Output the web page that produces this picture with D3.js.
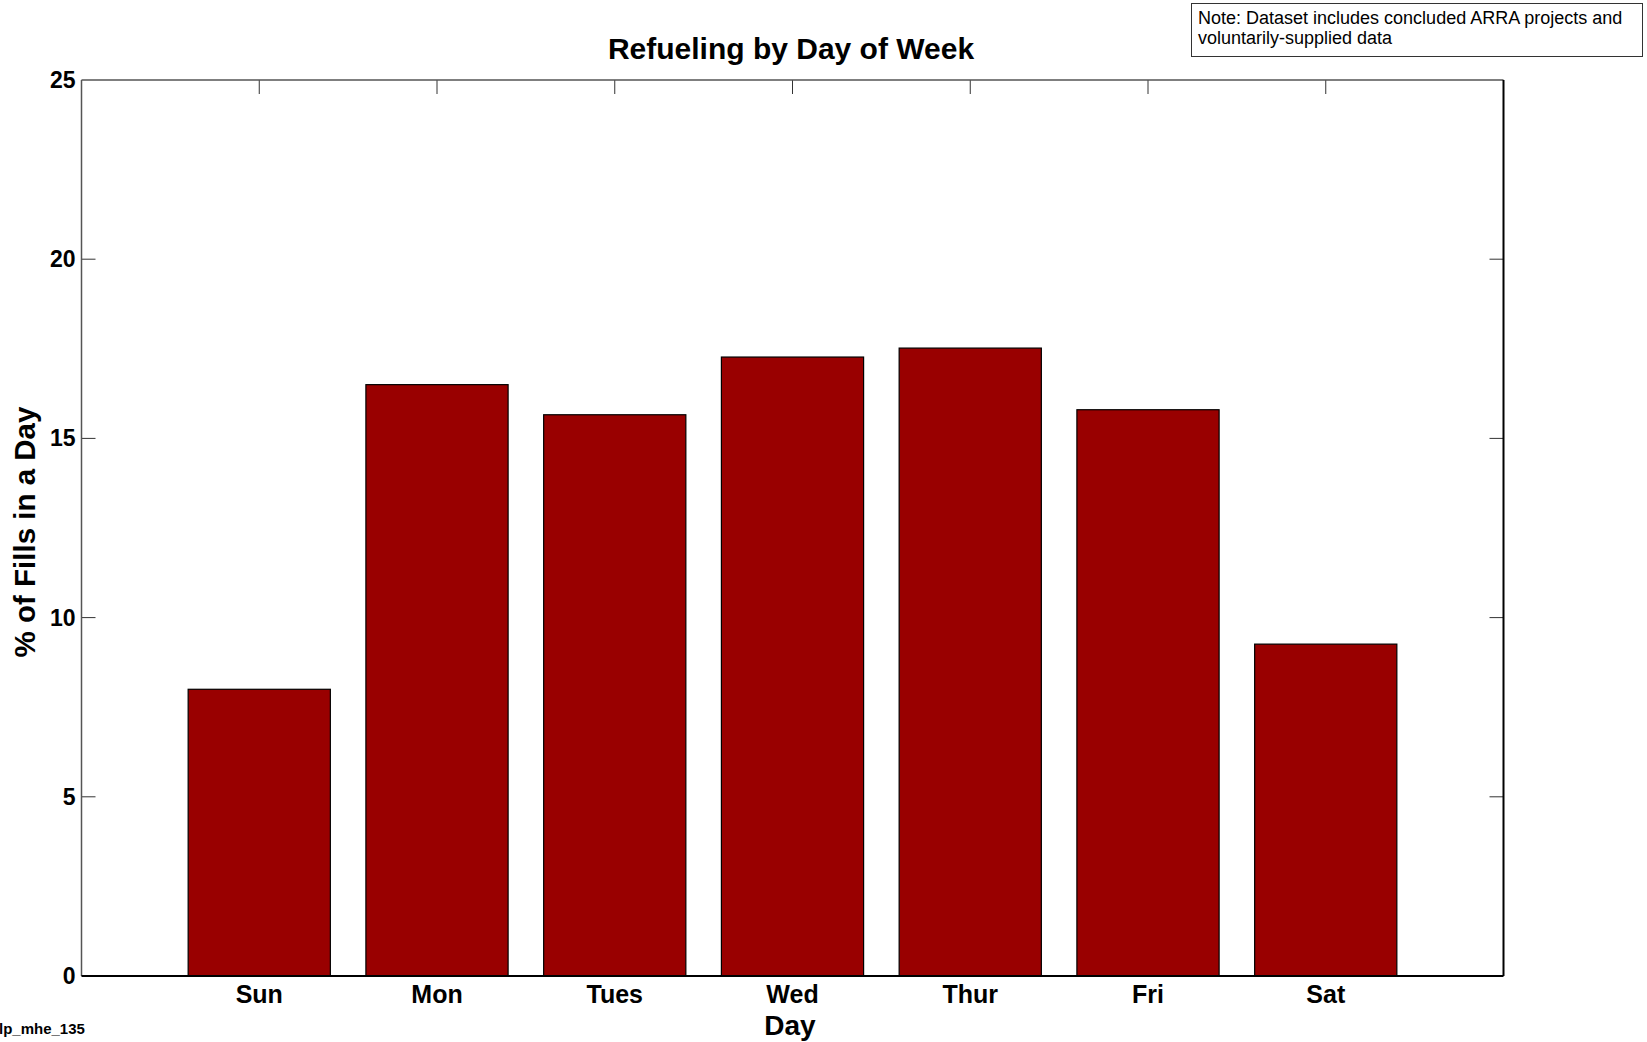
<!DOCTYPE html>
<html>
<head>
<meta charset="utf-8">
<script src="https://cdn.jsdelivr.net/npm/d3@7"></script>
<style>
  body { margin: 0; background: #fff; }
  svg { display: block; font-family: "Liberation Sans", Arial, sans-serif; }
</style>
</head>
<body>
<svg id="barchart"></svg>
<script>
var days = ["Sun", "Mon", "Tues", "Wed", "Thur", "Fri", "Sat"]
var fillPercent = [8.0, 16.5, 15.66, 17.27, 17.52, 15.8, 9.26]
var yTicks = [0, 5, 10, 15, 20, 25]

var dimensions = {
    width: 1647,
    height: 1042,
    margin: {
        top: 80,
        bottom: 66,
        right: 143.5,
        left: 81.5
    }
}

var svg = d3.select("#barchart")
    .attr("width", dimensions.width)
    .attr("height", dimensions.height)

var x0 = dimensions.margin.left
var x1 = dimensions.width - dimensions.margin.right
var y0 = dimensions.height - dimensions.margin.bottom
var y1 = dimensions.margin.top

var xScale = d3.scaleBand()
    .domain(days)
    .range([x0, x1])
    .paddingInner(0.2)
    .paddingOuter(0.6)

var yScale = d3.scaleLinear()
    .domain([0, 25])
    .range([y0, y1])

// inward tick marks on all four sides (drawn under the bars)
var tickLen = 14
var ticks = svg.append("g").attr("stroke", "#333").attr("stroke-width", 1)
ticks.selectAll(".yl").data(yTicks.slice(1, -1)).enter().append("line")
    .attr("x1", x0).attr("x2", x0 + tickLen)
    .attr("y1", d => yScale(d)).attr("y2", d => yScale(d))
ticks.selectAll(".yr").data(yTicks.slice(1, -1)).enter().append("line")
    .attr("x1", x1).attr("x2", x1 - tickLen)
    .attr("y1", d => yScale(d)).attr("y2", d => yScale(d))
ticks.selectAll(".xt").data(days).enter().append("line")
    .attr("x1", d => xScale(d) + xScale.bandwidth() / 2)
    .attr("x2", d => xScale(d) + xScale.bandwidth() / 2)
    .attr("y1", y1).attr("y2", y1 + tickLen)

// bars
svg.append("g")
    .selectAll("rect")
    .data(days)
    .enter()
    .append("rect")
    .attr("x", d => xScale(d))
    .attr("y", (d, i) => yScale(fillPercent[i]))
    .attr("width", xScale.bandwidth())
    .attr("height", (d, i) => yScale(0) - yScale(fillPercent[i]))
    .attr("fill", "#990000")
    .attr("stroke", "#000")
    .attr("stroke-width", 1.2)

// axes box
var box = svg.append("g").attr("fill", "none")
box.append("line").attr("x1", x0).attr("x2", x1).attr("y1", y1).attr("y2", y1)
    .attr("stroke", "#555").attr("stroke-width", 1.5)
box.append("line").attr("x1", x0).attr("x2", x0).attr("y1", y1).attr("y2", y0)
    .attr("stroke", "#555").attr("stroke-width", 1.5)
box.append("line").attr("x1", x0).attr("x2", x1).attr("y1", y0).attr("y2", y0)
    .attr("stroke", "#000").attr("stroke-width", 2)
box.append("line").attr("x1", x1).attr("x2", x1).attr("y1", y1).attr("y2", y0)
    .attr("stroke", "#000").attr("stroke-width", 2)

// y tick labels
svg.append("g")
    .selectAll("text")
    .data(yTicks)
    .enter()
    .append("text")
    .attr("x", x0 - 6)
    .attr("y", d => yScale(d))
    .attr("dy", "0.35em")
    .attr("text-anchor", "end")
    .attr("font-size", 23)
    .attr("font-weight", "bold")
    .text(d => d)

// x tick labels
svg.append("g")
    .selectAll("text")
    .data(days)
    .enter()
    .append("text")
    .attr("x", d => xScale(d) + xScale.bandwidth() / 2)
    .attr("y", 1003)
    .attr("text-anchor", "middle")
    .attr("font-size", 25)
    .attr("font-weight", "bold")
    .text(d => d)

// title and axis labels
svg.append("text")
    .attr("x", 791)
    .attr("y", 59)
    .attr("text-anchor", "middle")
    .attr("font-size", 30)
    .attr("font-weight", "bold")
    .text("Refueling by Day of Week")

svg.append("text")
    .attr("x", 790)
    .attr("y", 1035)
    .attr("text-anchor", "middle")
    .attr("font-size", 28)
    .attr("font-weight", "bold")
    .text("Day")

svg.append("text")
    .attr("transform", "translate(35," + 532 + ") rotate(-90)")
    .attr("text-anchor", "middle")
    .attr("font-size", 29.5)
    .attr("font-weight", "bold")
    .text("% of Fills in a Day")

// note box
svg.append("rect")
    .attr("x", 1191.5).attr("y", 3.5)
    .attr("width", 451).attr("height", 53)
    .attr("fill", "#fff").attr("stroke", "#333").attr("stroke-width", 1)
var note = svg.append("text").attr("font-size", 18).attr("fill", "#000")
note.append("tspan").attr("x", 1198).attr("y", 24)
    .text("Note: Dataset includes concluded ARRA projects and")
note.append("tspan").attr("x", 1198).attr("y", 44)
    .text("voluntarily-supplied data")

svg.append("text")
    .attr("x", -1)
    .attr("y", 1034)
    .attr("font-size", 15)
    .attr("font-weight", "bold")
    .text("lp_mhe_135")
</script>
</body>
</html>
